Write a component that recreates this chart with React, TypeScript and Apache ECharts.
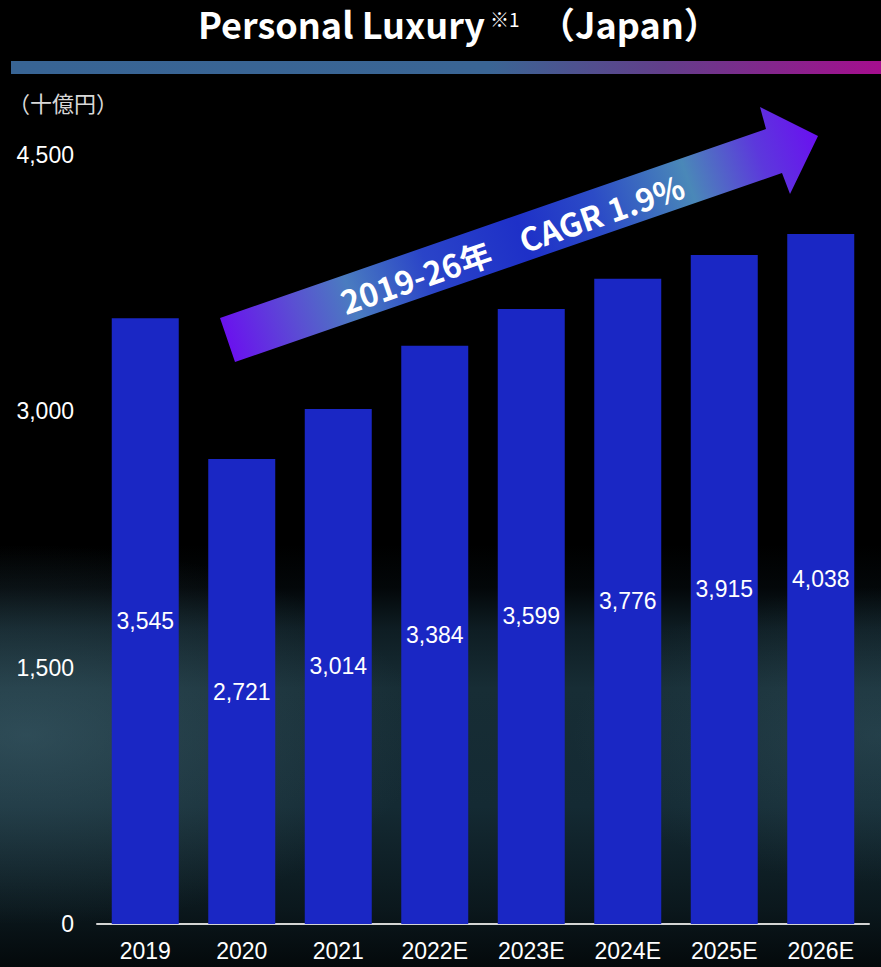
import React, { useEffect, useRef } from "react";
import * as echarts from "echarts";

const categories = ["2019", "2020", "2021", "2022E", "2023E", "2024E", "2025E", "2026E"];
const values = [3545, 2721, 3014, 3384, 3599, 3776, 3915, 4038];
const yMin = 0;
const yMax = 4500;
const yInterval = 1500;
const titleMain = "Personal Luxury";
const titleNote = "※1";
const titleRegion = "（Japan）";
const unitLabel = "（十億円）";
const cagrText = "2019-26年　CAGR 1.9%";

const W = 881;
const H = 967;

export default function App() {
  const ref = useRef<HTMLDivElement | null>(null);

  useEffect(() => {
    if (!ref.current) return;
    const chart = echarts.init(ref.current, null, { renderer: "svg" });

    const arrowGrad = new echarts.graphic.LinearGradient(
      227, 340, 818, 135,
      [
        { offset: 0, color: "#6a12ee" },
        { offset: 0.12, color: "#5a50d2" },
        { offset: 0.21, color: "#4a7cc0" },
        { offset: 0.34, color: "#2a44c8" },
        { offset: 0.5, color: "#1e30c8" },
        { offset: 0.63, color: "#2c4cc6" },
        { offset: 0.78, color: "#4a88b8" },
        { offset: 0.9, color: "#5c38dc" },
        { offset: 1, color: "#6a10f0" },
      ],
      true
    );

    const titleFont = "Noto Sans CJK JP, Noto Sans, sans-serif";
    const bgTop = 545;

    const option: any = {
      animation: false,
      backgroundColor: "#000000",
      grid: { left: 97, right: 12, top: 155, bottom: 43, containLabel: false },
      xAxis: {
        type: "category",
        data: categories,
        axisLine: { show: true, lineStyle: { color: "#d4d4d4", width: 2 } },
        axisTick: { show: false },
        axisLabel: {
          color: "#ffffff",
          fontSize: 23,
          fontFamily: "Liberation Sans, Arial, sans-serif",
          margin: 15,
        },
      },
      yAxis: {
        type: "value",
        min: yMin,
        max: yMax,
        interval: yInterval,
        axisLine: { show: false },
        axisTick: { show: false },
        splitLine: { show: false },
        axisLabel: {
          color: "#ffffff",
          fontSize: 23,
          fontFamily: "Liberation Sans, Arial, sans-serif",
          margin: 23,
          formatter: (v: number) => v.toLocaleString("en-US"),
        },
      },
      series: [
        {
          type: "bar",
          data: values,
          barWidth: 67,
          itemStyle: { color: "#1a27c4" },
          label: {
            show: true,
            position: "inside",
            color: "#ffffff",
            fontSize: 23,
            fontFamily: "Liberation Sans, Arial, sans-serif",
            formatter: (p: any) => Number(p.value).toLocaleString("en-US"),
          },
        },
      ],
      graphic: [
        {
          type: "rect",
          z: -10,
          silent: true,
          shape: { x: 0, y: bgTop, width: W, height: H - bgTop },
          style: {
            fill: new echarts.graphic.LinearGradient(0, 0, 0, 1, [
              { offset: 0, color: "rgba(0,0,0,1)" },
              { offset: 0.1, color: "#030709" },
              { offset: 0.2, color: "#0e1d23" },
              { offset: 0.34, color: "#172d35" },
              { offset: 0.62, color: "#142a33" },
              { offset: 0.86, color: "#0b181d" },
              { offset: 1, color: "#04090b" },
            ]),
          },
        },
        {
          type: "rect",
          z: -9,
          silent: true,
          shape: { x: 0, y: bgTop, width: W, height: H - bgTop },
          style: {
            fill: new echarts.graphic.RadialGradient(0.03, 0.45, 0.45, [
              { offset: 0, color: "rgba(80,120,135,0.42)" },
              { offset: 1, color: "rgba(80,120,135,0)" },
            ]),
          },
        },
        {
          type: "rect",
          z: -9,
          silent: true,
          shape: { x: 0, y: bgTop, width: W, height: H - bgTop },
          style: {
            fill: new echarts.graphic.RadialGradient(1.0, 0.45, 0.35, [
              { offset: 0, color: "rgba(70,110,125,0.3)" },
              { offset: 1, color: "rgba(70,110,125,0)" },
            ]),
          },
        },
        {
          type: "rect",
          silent: true,
          shape: { x: 11, y: 61, width: W - 11, height: 13 },
          style: {
            fill: new echarts.graphic.LinearGradient(0, 0, 1, 0, [
              { offset: 0, color: "#386494" },
              { offset: 0.55, color: "#3a6594" },
              { offset: 0.75, color: "#623e8a" },
              { offset: 1, color: "#a50e8e" },
            ]),
          },
        },
        {
          type: "text",
          silent: true,
          x: 198,
          y: 23,
          style: {
            text: titleMain,
            fill: "#ffffff",
            fontSize: 36,
            lineHeight: 36,
            fontWeight: "bold",
            fontFamily: titleFont,
            textAlign: "left",
            textVerticalAlign: "middle",
            align: "left",
            verticalAlign: "middle",
          },
        },
        {
          type: "text",
          silent: true,
          x: 490,
          y: 18,
          style: {
            text: titleNote,
            fill: "#ffffff",
            fontSize: 19,
            lineHeight: 19,
            fontFamily: titleFont,
            textAlign: "left",
            textVerticalAlign: "middle",
            align: "left",
            verticalAlign: "middle",
          },
        },
        {
          type: "text",
          silent: true,
          x: 539,
          y: 23,
          style: {
            text: titleRegion,
            fill: "#ffffff",
            fontSize: 36,
            lineHeight: 36,
            fontWeight: "bold",
            fontFamily: titleFont,
            textAlign: "left",
            textVerticalAlign: "middle",
            align: "left",
            verticalAlign: "middle",
          },
        },
        {
          type: "text",
          silent: true,
          x: 8,
          y: 102,
          style: {
            text: unitLabel,
            fill: "#d8d8d8",
            fontSize: 22,
            fontFamily: "Noto Sans CJK JP, sans-serif",
            textAlign: "left",
            textVerticalAlign: "middle",
            align: "left",
            verticalAlign: "middle",
          },
        },
        {
          type: "polygon",
          silent: true,
          z: 5,
          shape: {
            points: [
              [220, 318],
              [766, 129],
              [760, 107],
              [818, 136],
              [790, 194],
              [782, 173],
              [235, 362],
            ],
          },
          style: { fill: arrowGrad },
        },
        {
          type: "text",
          silent: true,
          z: 6,
          x: 512,
          y: 243,
          rotation: 0.333,
          style: {
            text: cagrText,
            fill: "#ffffff",
            fontSize: 32,
            fontWeight: "bold",
            fontFamily: "Noto Sans CJK JP, sans-serif",
            textAlign: "center",
            textVerticalAlign: "middle",
            align: "center",
            verticalAlign: "middle",
          },
        },
      ],
    };

    chart.setOption(option);
    return () => chart.dispose();
  }, []);

  return (
    <div
      ref={ref}
      style={{ position: "fixed", left: 0, top: 0, width: W, height: H }}
    />
  );
}
